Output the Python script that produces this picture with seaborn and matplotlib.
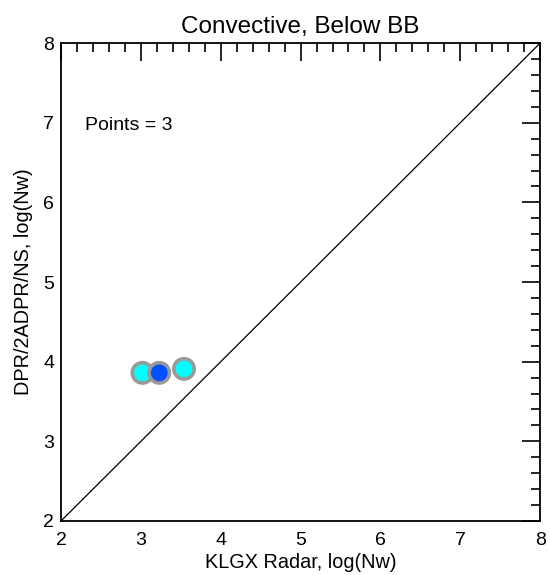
import numpy as np
import pandas as pd
import matplotlib
matplotlib.use("Agg")
import matplotlib.pyplot as plt
import seaborn as sns
from matplotlib.ticker import MultipleLocator

# values
gr_nw = [3.02, 3.23, 3.54]
dpr_nw = [3.86, 3.86, 3.91]
pt_class = ['a', 'b', 'a']
class_colors = {'a': '#00FFFF', 'b': '#0050FF'}

df = pd.DataFrame({'gr': gr_nw, 'dpr': dpr_nw, 'cls': pt_class})

sns.set_style('white')
plt.rcParams['font.family'] = ['Liberation Sans', 'DejaVu Sans']
plt.rcParams.update({'text.color': 'black', 'axes.labelcolor': 'black',
                     'xtick.color': 'black', 'ytick.color': 'black'})

fig = plt.figure(figsize=(5.5, 5.75), dpi=100)
ax = fig.add_axes([0.111, 0.094, 0.871, 0.831])

ax.plot([2, 8], [2, 8], color='black', lw=0.9)
sns.scatterplot(data=df, x='gr', y='dpr', hue='cls', palette=class_colors, s=215,
                edgecolor='#999999', linewidth=2.6, legend=False, ax=ax, zorder=3)

ax.set_xlim(2, 8)
ax.set_ylim(2, 8)
ax.xaxis.set_major_locator(MultipleLocator(1))
ax.yaxis.set_major_locator(MultipleLocator(1))
ax.xaxis.set_minor_locator(MultipleLocator(0.2))
ax.yaxis.set_minor_locator(MultipleLocator(0.2))
ax.tick_params(which='both', direction='in', top=True, right=True, color='black',
               labelcolor='black', labelsize=14, width=1.2, pad=5)
ax.tick_params(axis='x', which='both', pad=8)
ax.tick_params(which='major', length=13)
ax.tick_params(which='minor', length=6.5)
for s in ax.spines.values():
    s.set_color('black')
    s.set_linewidth(1.3)

ax.text(2.3, 6.97, 'Points = 3', fontsize=14, va='center', ha='left')
ax.set_title('Convective, Below BB', fontsize=17.5, pad=7)
ax.set_xlabel('KLGX Radar, log(Nw)', fontsize=14.3, labelpad=3)
ax.set_ylabel('DPR/2ADPR/NS, log(Nw)', fontsize=14.3, labelpad=7)

fig.savefig('out.png', dpi=100)
